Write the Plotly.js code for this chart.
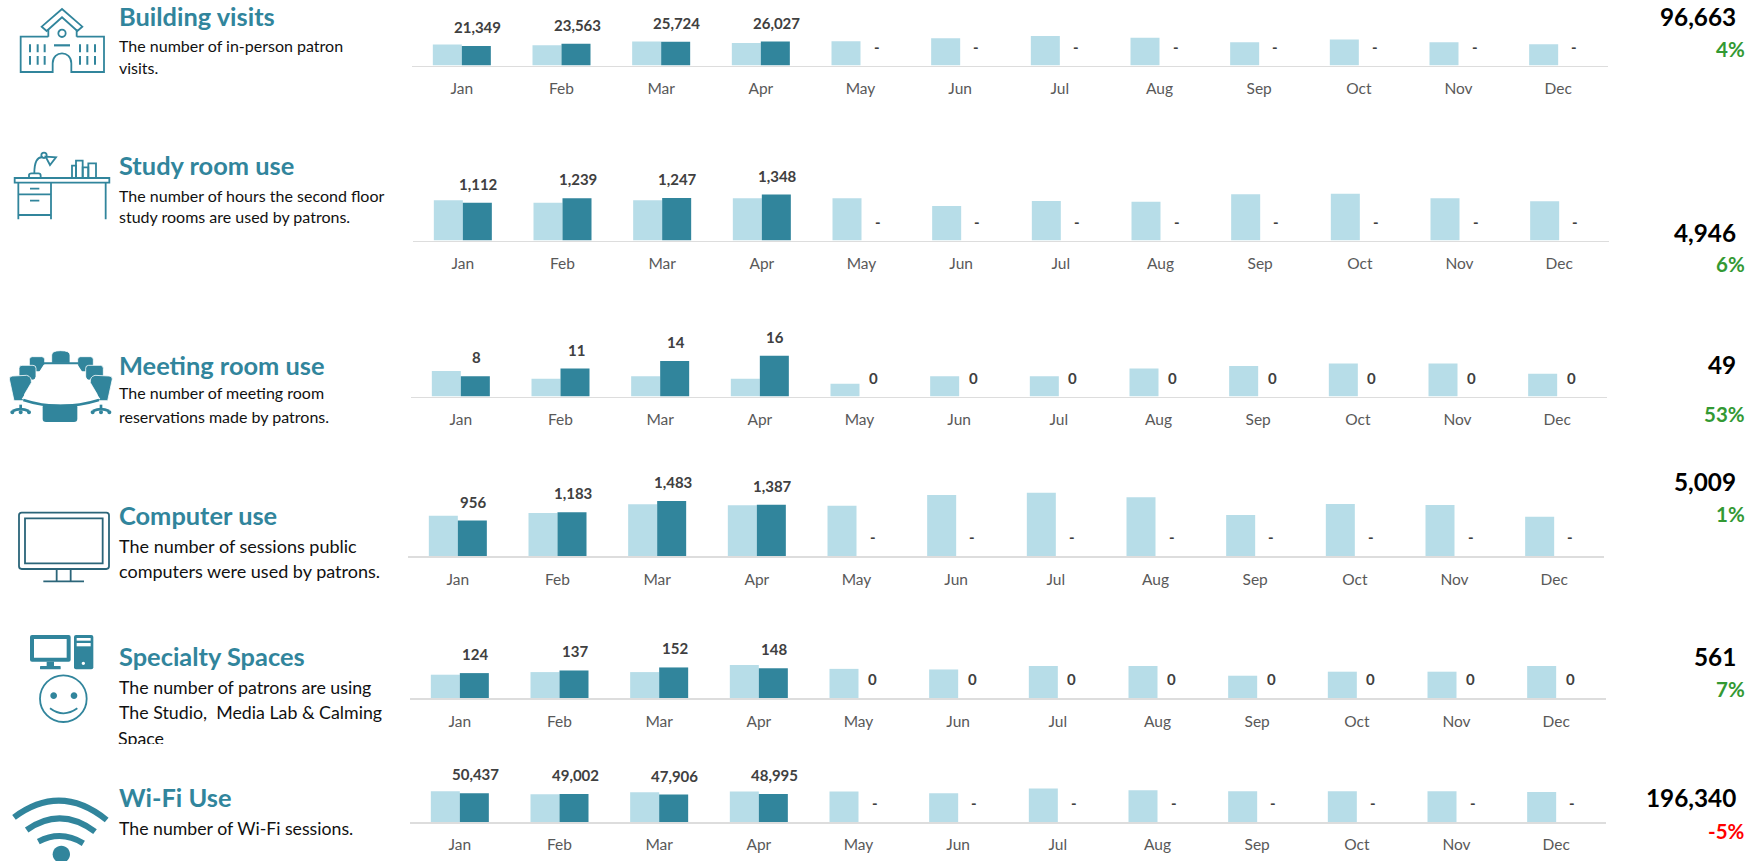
<!DOCTYPE html>
<html>
<head>
<meta charset="utf-8">
<script src="https://cdn.plot.ly/plotly-3.0.1.min.js"></script>
<style>html,body{margin:0;padding:0;background:#fff;overflow:hidden}</style>
</head>
<body>
<div id="chart" style="width:1760px;height:861px"></div>
<script>
const months = ['Jan','Feb','Mar','Apr','May','Jun','Jul','Aug','Sep','Oct','Nov','Dec'];

const buildingPrior = [22800,22000,26000,24600,26300,29600,32200,30300,25300,28200,25300,23100];
const buildingCurrent = [21349,23563,25724,26027,0,0,0,0,0,0,0,0];
const studyPrior = [1180,1112,1180,1240,1240,1015,1162,1141,1355,1375,1240,1150];
const studyCurrent = [1112,1239,1247,1348,0,0,0,0,0,0,0,0];
const meetingPrior = [10,7,8,7,5,8,8,11,12,13,13,9];
const meetingCurrent = [8,11,14,16,0,0,0,0,0,0,0,0];
const computerPrior = [1089,1161,1395,1368,1359,1647,1710,1584,1107,1404,1377,1062];
const computerCurrent = [956,1183,1483,1387,0,0,0,0,0,0,0,0];
const specialtyPrior = [116,129,129,164,145,142,159,159,111,131,131,159];
const specialtyCurrent = [124,137,152,148,0,0,0,0,0,0,0,0];
const wifiPrior = [53630,48440,51900,53070,53070,50170,58300,55360,53630,53630,53630,52480];
const wifiCurrent = [50437,49002,47906,48995,0,0,0,0,0,0,0,0];

const titles = ['Building visits','Study room use','Meeting room use','Computer use','Specialty Spaces','Wi-Fi Use'];
const totals = ['96,663','4,946','49','5,009','561','196,340'];
const changes = ['4%','6%','53%','1%','7%','-5%'];
const zeroLabels = ['-','-','0','-','0','-'];

/* layout of the six panels, in page pixels */
const W = 1760, H = 861, PANEL_H = 64;
const panels = [
  {prior: buildingPrior, cur: buildingCurrent, base: 65.6,  x0: 412, unit: 1084,  lw: 1.5},
  {prior: studyPrior,    cur: studyCurrent,    base: 240.6, x0: 413, unit: 29.3,  lw: 1.5},
  {prior: meetingPrior,  cur: meetingCurrent,  base: 396.6, x0: 411, unit: 0.392, lw: 1.5},
  {prior: computerPrior, cur: computerCurrent, base: 556,   x0: 408, unit: 27,    lw: 2},
  {prior: specialtyPrior,cur: specialtyCurrent,base: 698.1, x0: 410, unit: 4.96,  lw: 2},
  {prior: wifiPrior,     cur: wifiCurrent,     base: 822.3, x0: 410, unit: 1730,  lw: 1.5}
];
const AXIS_W = 1196;
const TEAL = '#31859C', LIGHT = '#B7DDE8', DARKTEAL = '#2B6579';
const FONT = 'Lato, "Open Sans", sans-serif';

const traces = [], annotations = [], shapes = [];
const layout = {
  width: W, height: H, margin: {l:0,r:0,t:0,b:0}, showlegend: false,
  paper_bgcolor: '#fff', plot_bgcolor: 'rgba(0,0,0,0)',
  barmode: 'group', bargap: 0.418, bargroupgap: 0,
  font: {family: FONT},
  xaxis7: {domain:[0,1], range:[0,W], visible:false, fixedrange:true, anchor:'y7'},
  yaxis7: {domain:[0,1], range:[H,0], visible:false, fixedrange:true, anchor:'x7'}
};

panels.forEach((p, i) => {
  const n = i + 1, xa = n === 1 ? 'x' : 'x' + n, ya = n === 1 ? 'y' : 'y' + n;
  const xk = n === 1 ? 'xaxis' : 'xaxis' + n, yk = n === 1 ? 'yaxis' : 'yaxis' + n;
  layout[xk] = {
    domain: [p.x0 / W, (p.x0 + AXIS_W) / W], anchor: ya, type: 'category',
    categoryorder: 'array', categoryarray: months,
    showline: true, linecolor: '#DDDDDD', linewidth: p.lw, showgrid: false, zeroline: false,
    ticks: 'outside', ticklen: 8, tickwidth: 0, tickcolor: 'rgba(0,0,0,0)',
    tickfont: {family: FONT, size: 15.5, color: '#595959'}, fixedrange: true
  };
  layout[yk] = {
    domain: [(H - p.base) / H, (H - p.base + PANEL_H) / H], anchor: xa,
    range: [0, PANEL_H * p.unit], visible: false, showgrid: false, zeroline: false, fixedrange: true
  };
  traces.push({type:'bar', name:'Prior year', x:months, y:p.prior, xaxis:xa, yaxis:ya, marker:{color:LIGHT}, hoverinfo:'x+y'});
  traces.push({type:'bar', name:'Current year', x:months, y:p.cur, xaxis:xa, yaxis:ya, marker:{color:TEAL}, hoverinfo:'x+y'});
  months.forEach((m, k) => {
    const v = p.cur[k];
    const zeroText = zeroLabels[i];
    annotations.push({
      xref: xa, yref: ya, x: m, y: v,
      xshift: v === 0 ? (zeroText === '0' ? 14 : 16) : 15.5, yshift: 19,
      text: v === 0 ? zeroText : v.toLocaleString('en-US'),
      showarrow: false, xanchor: 'center', yanchor: 'middle',
      font: {family: FONT, size: 15, color: '#404040', weight: 700}
    });
  });
});

/* text blocks, in page pixels through the overlay axes */
function label(x, y, text, size, color, bold, anchor, extra) {
  annotations.push(Object.assign({
    xref:'x7', yref:'y7', x:x, y:y, text:text, showarrow:false,
    xanchor: anchor || 'left', yanchor:'middle', align: anchor || 'left',
    font:{family:FONT, size:size, color:color, weight: bold ? 700 : 400}
  }, extra || {}));
}
const titleY = [15.7,164.7,365,515,656,796.7];
titles.forEach((t,i) => label(117, titleY[i], t, 25.4, TEAL, true));

const descriptions = [
  [['The number of in-person patron',45.7],['visits.',67.7]],
  [['The number of hours the second floor',195],['study rooms are used by patrons.',216.7]],
  [['The number of meeting room',392.7],['reservations made by patrons.',416]],
  [['The number of sessions public',546],['computers were used by patrons.',571.3]],
  [['The number of patrons are using',687.3],['The Studio,  Media Lab &amp; Calming',711.7]],
  [['The number of Wi-Fi sessions.',828]]
];
const descSize = [16,16,16,18,17.8,17.7];
descriptions.forEach((d,i) => d.forEach(l => label(117, l[1], l[0], descSize[i], '#111111', false)));
/* third line is cut by its text box in the reference */
label(117, 726, 'Space', 17.8, '#111111', false, 'left', {yanchor:'top', width:70, height:17, valign:'top', borderpad:0});

const totalY = [16.3,232,364.3,481,656.7,797.7];
const changeY = [49,264,414,514,689,830.7];
totals.forEach((t,i) => label(1738, totalY[i], t, 24.3, '#000000', true, 'right'));
changes.forEach((t,i) => label(1746.5, changeY[i], t, 20.5, t[0]==='-' ? '#FF0000' : '#339933', true, 'right'));

/* icons: drawn in 3x crop coordinates and mapped to page pixels */
function tx(path, oy) {
  return path.replace(/(-?\d+\.?\d*)[ ,]+(-?\d+\.?\d*)/g, (m,a,b) => (a/3).toFixed(2)+' '+(b/3+oy).toFixed(2));
}
function ico(path, oy, o) {
  shapes.push({type:'path', xref:'x7', yref:'y7', path:tx(path,oy), layer:'above',
    line:{color:(o&&o.color)||TEAL, width:(o&&o.w!==undefined)?o.w:1.8},
    fillcolor:(o&&o.fill)||'rgba(0,0,0,0)'});
}
function circ(cx,cy,r){const k=r*0.5523;
  return `M ${cx-r} ${cy} C ${cx-r} ${cy-k} ${cx-k} ${cy-r} ${cx} ${cy-r} C ${cx+k} ${cy-r} ${cx+r} ${cy-k} ${cx+r} ${cy} C ${cx+r} ${cy+k} ${cx+k} ${cy+r} ${cx} ${cy+r} C ${cx-k} ${cy+r} ${cx-r} ${cy+k} ${cx-r} ${cy} Z`;}
function rect(a,b,c,d){return `M ${a} ${b} L ${c} ${b} L ${c} ${d} L ${a} ${d} Z`;}
function rrect(a,b,c,d,r){return `M ${a+r} ${b} L ${c-r} ${b} Q ${c} ${b} ${c} ${b+r} L ${c} ${d-r} Q ${c} ${d} ${c-r} ${d} L ${a+r} ${d} Q ${a} ${d} ${a} ${d-r} L ${a} ${b+r} Q ${a} ${b} ${a+r} ${b} Z`;}

/* school */
ico('M 145 110 L 62 110 L 62 216 L 158 216 L 158 190 C 158 150 214 150 214 190 L 214 216 L 312 216 L 312 110 L 230 110',0);
ico('M 145 110 L 145 88 M 230 110 L 230 88',0);
ico('M 186 27 L 247 80 L 232 93 L 186 52 L 140 93 L 125 80 Z',0);
ico(circ(186,100,11),0);
ico('M 162 136 L 210 136',0,{w:2.2});
[90,113,134,240,262,285].forEach(x => ico(`M ${x} 133 L ${x} 157 M ${x} 168 L ${x} 194`,0,{w:2}));

/* desk */
ico(rect(44,534,328,548),0);
ico('M 55 548 L 55 658 M 153 548 L 153 658 M 55 583 L 153 583 M 55 645 L 153 645 M 317 548 L 317 658',0);
ico('M 90 566 L 118 566 M 90 602 L 118 602',0,{w:1.6});
ico('M 87 534 L 87 525 Q 87 520 95 520 L 115 520 Q 122 520 122 527 L 122 534 M 103 520 C 103 485 112 470 128 472',0);
ico('M 137 470 L 168 472 L 150 495 Z',0);
ico(circ(132,466,8),0);
ico(rect(216,497,228,534),0);
ico(rect(228,482,248,534),0);
ico(rect(248,502,265,534),0);
ico(rect(265,490,288,534),0);

/* meeting table */
const M = {w:0.8, color:'#FFFFFF', fill:TEAL};
ico('M 155 100 L 155 75 Q 155 62 182 62 Q 210 62 210 75 L 210 100 Z',330,M);
ico(rrect(88,80,134,125,9),330,M);
ico(rrect(233,80,280,125,9),330,M);
ico(rrect(57,106,108,150,9),330,M);
ico(rrect(257,106,310,150,9),330,M);
ico('M 28 147 Q 28 138 38 138 L 80 136 Q 96 140 94 158 L 74 192 L 72 212 L 42 212 Z',330,M);
ico('M 337 147 Q 337 138 327 138 L 285 136 Q 269 140 271 158 L 291 192 L 293 212 L 323 212 Z',330,M);
ico(rrect(128,222,232,276,10),330,{w:0,fill:TEAL});
[[62,232],[303,232]].forEach(c => {
  ico(rect(c[0]-4,c[1]-8,c[0]+4,c[1]+6),330,{w:0,fill:TEAL});
  ico(`M ${c[0]-24} ${c[1]+11} Q ${c[0]} ${c[1]} ${c[0]+24} ${c[1]+11}`,330,{w:2.6});
  ico(circ(c[0]-25,c[1]+15,6),330,{w:0,fill:TEAL});
  ico(circ(c[0],c[1]+15,6),330,{w:0,fill:TEAL});
  ico(circ(c[0]+25,c[1]+15,6),330,{w:0,fill:TEAL});
});
ico('M 132 106 L 232 106 L 298 206 Q 180 238 68 206 Z',330,{w:1.2,color:'#FFFFFF',fill:'#FFFFFF'});
ico('M 128 100 L 236 100',330,{w:2});
ico('M 70 210 Q 180 246 297 210',330,{w:2.4});

/* monitor */
const MON = {color:DARKTEAL, w:1.8};
ico(rrect(57,548,327,717,8),330,MON);
ico(rect(75,565,308,700),330,MON);
ico('M 170 717 L 170 752 M 212 717 L 212 752 M 130 754 L 252 754',330,MON);

/* computer and smiley */
ico(rrect(90,75,212,155,6),610,{w:0,fill:TEAL});
ico(rect(102,87,200,143),610,{w:0,fill:'#FFFFFF'});
ico(rect(140,155,162,170),610,{w:0,fill:TEAL});
ico(rrect(120,168,182,178,2),610,{w:0,fill:TEAL});
ico(rrect(222,75,280,178,6),610,{w:0,fill:TEAL});
ico(rect(230,84,272,92),610,{w:0,fill:'#FFFFFF'});
ico(rect(230,99,272,109),610,{w:0,fill:'#FFFFFF'});
ico(circ(250,160,5),610,{w:0,fill:'#FFFFFF'});
ico(circ(190,266,70),610);
ico(circ(161,257,10),610,{w:0,fill:TEAL});
ico(circ(222,257,10),610,{w:0,fill:TEAL});
ico('M 150 295 Q 190 325 232 295',610);

/* wi-fi */
ico('M 42 622 Q 182 518 320 630',610,{w:6});
ico('M 80 660 Q 182 588 285 665',610,{w:6});
ico('M 115 695 Q 183 659 250 700',610,{w:6});
ico(circ(184,733,26),610,{w:0,fill:TEAL});

/* overlay trace so the pixel axes exist */
traces.push({type:'scatter', mode:'none', x:[0,W], y:[0,H], xaxis:'x7', yaxis:'y7', hoverinfo:'skip'});

layout.annotations = annotations;
layout.shapes = shapes;
Plotly.newPlot('chart', traces, layout, {displayModeBar:false, staticPlot:true});
</script>
</body>
</html>
